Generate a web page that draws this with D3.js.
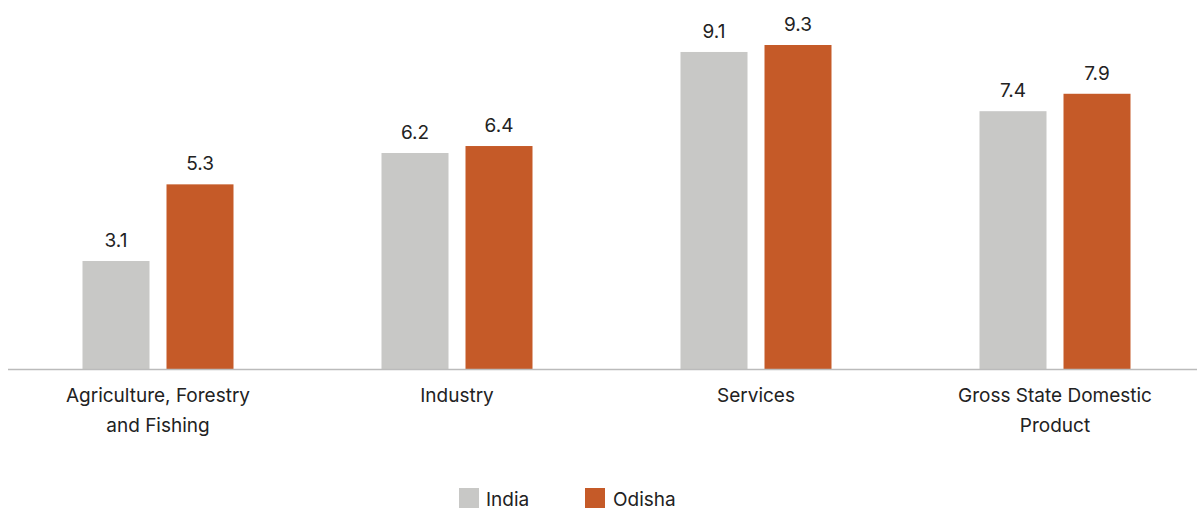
<!DOCTYPE html>
<html><head><meta charset="utf-8">
<script src="https://cdn.jsdelivr.net/npm/d3@7"></script>
<style>body{margin:0;background:#fff}text{font-family:Inter,"Open Sans",sans-serif;fill:#222}</style>
</head><body><svg id="c" width="1197" height="511"></svg>
<script>
const categories=[["Agriculture, Forestry","and Fishing"],["Industry"],["Services"],["Gross State Domestic","Product"]];
const seriesNames=["India","Odisha"];
const india=[3.1,6.2,9.1,7.4];
const odisha=[5.3,6.4,9.3,7.9];
const colors=["#c8c8c6","#c55a28"];
const svg=d3.select("#c");
const base=369;
const y=d3.scaleLinear().domain([0,9.3]).range([base,45]);
const x=d3.scaleBand().domain(d3.range(4)).range([8.5,1204.5]);
const inner=d3.scaleBand().domain([0,1]).range([-84,84]).paddingInner(17/151).paddingOuter(0);
// adjust inner so bars are 67 wide with 17 gap
const bw=67,gap=17;
const off=[-gap/2-bw,gap/2];
const data=[india,odisha];
data.forEach((s,si)=>{
  const g=svg.append("g");
  g.selectAll("rect").data(s).join("rect")
    .attr("x",(d,i)=>x(i)+x.bandwidth()/2+off[si]).attr("width",bw)
    .attr("y",d=>y(d)).attr("height",d=>base-y(d)).attr("fill",colors[si]);
  g.selectAll("text").data(s).join("text")
    .attr("x",(d,i)=>x(i)+x.bandwidth()/2+off[si]+bw/2).attr("y",d=>y(d)-14)
    .attr("text-anchor","middle").attr("font-size",19).text(d=>d.toFixed(1));
});
svg.append("line").attr("x1",8).attr("x2",1197).attr("y1",base+0.5).attr("y2",base+0.5).attr("stroke","#bbb").attr("stroke-width",1.5);
categories.forEach((c,i)=>{
  const t=svg.append("text").attr("text-anchor","middle").attr("font-size",19);
  c.forEach((l,j)=>t.append("tspan").attr("x",x(i)+x.bandwidth()/2).attr("y",402+j*30).text(l));
});
const leg=[[459,486],[585,613]];
seriesNames.forEach((n,i)=>{
  svg.append("rect").attr("x",leg[i][0]).attr("y",488).attr("width",20).attr("height",20).attr("fill",colors[i]);
  svg.append("text").attr("x",leg[i][1]).attr("y",506).attr("font-size",19).text(n);
});
</script></body></html>
